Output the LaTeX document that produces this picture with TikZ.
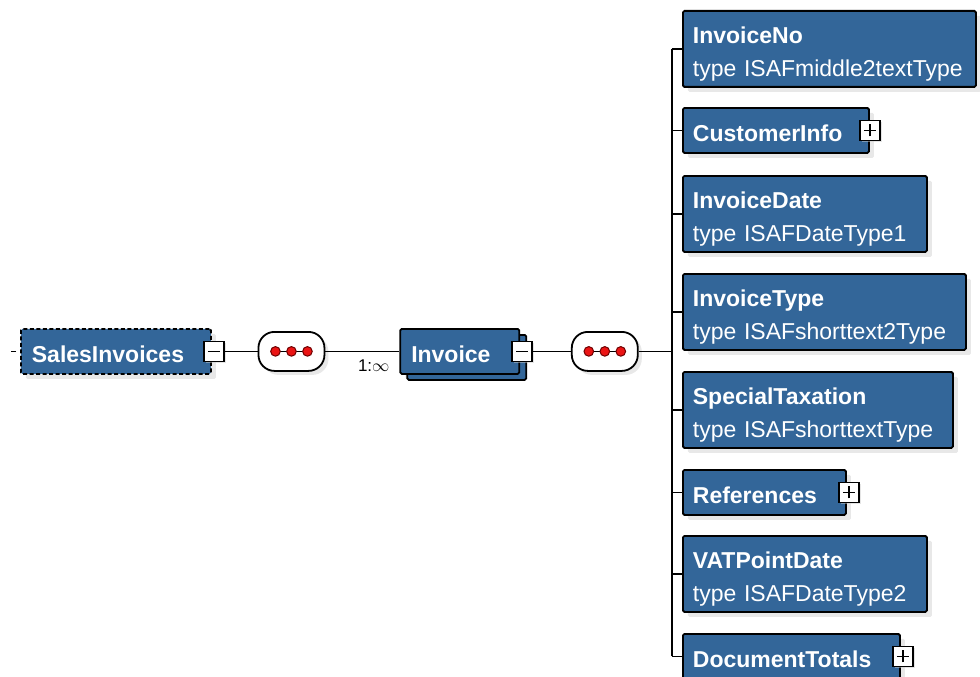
\documentclass[tikz,border=0pt]{standalone}
\usepackage{fontspec}
\setmainfont{Liberation Sans}
\usetikzlibrary{positioning, shadows}

\definecolor{xsdblue}{RGB}{51,102,153}
\definecolor{dotred}{RGB}{235,20,20}
\definecolor{dotdark}{RGB}{110,0,0}

\begin{document}
\begin{tikzpicture}[x=1pt,y=-1pt,line width=1.7pt,
  elem/.style={draw=black, line width=1.8pt, fill=xsdblue, text=white, rounded corners=1.5pt,
    anchor=north west, inner xsep=10pt, inner ysep=0pt, align=left,
    font=\fontsize{23}{33}\selectfont,
    drop shadow={shadow xshift=5pt, shadow yshift=-5pt, fill=black!18}},
  oneline/.style={text height=34pt, text depth=11pt},
  twoline/.style={text height=33pt, text depth=43pt},
  seq/.style={draw=black, line width=1.8pt, fill=white, rounded corners=16pt,
    minimum width=66pt, minimum height=39pt,
    drop shadow={shadow xshift=4pt, shadow yshift=-4pt, fill=black!18}},
  pmbox/.style={draw=black, fill=white, minimum size=20pt, inner sep=0pt,
    line width=1.5pt,
    drop shadow={shadow xshift=2pt, shadow yshift=-2pt, fill=black!20}},
  collapsebox/.style={pmbox, path picture={
    \draw[line width=1.8pt] ([xshift=-6pt]path picture bounding box.center)
      -- ([xshift=6pt]path picture bounding box.center);}},
  expandbox/.style={pmbox, path picture={
    \draw[line width=1.8pt] ([xshift=-6pt]path picture bounding box.center)
      -- ([xshift=6pt]path picture bounding box.center)
      ([yshift=-6pt]path picture bounding box.center)
      -- ([yshift=6pt]path picture bounding box.center);}},
  mult/.style={inner sep=0pt, font=\fontsize{17}{20}\selectfont}
]
  \useasboundingbox (0,0) rectangle (980,677);

  % root and its sequence
  \node[elem, oneline, dashed, dash pattern=on 4pt off 2.5pt,
        text width=168pt, inner xsep=11pt] (sales) at (20,328) {\textbf{SalesInvoices}};
  \node[collapsebox] (salesminus) at ([xshift=2pt]sales.east) {};
  \node[seq, right=33pt of salesminus] (seq1) {};
  \coordinate[left=4pt of sales.west] (stub);

  % repeated Invoice element
  \node[elem, oneline, text width=97pt, inner xsep=11pt,
        copy shadow={shadow xshift=7pt, shadow yshift=-6pt, fill=xsdblue, draw=black},
        right=74pt of seq1] (invoice) {\textbf{Invoice}};
  \node[collapsebox] (invminus) at ([xshift=2pt]invoice.east) {};
  \node[mult, below left=7.5pt and 9pt of invoice.west] (occurs) {1:$\infty$};
  \node[seq, right=38pt of invminus] (seq2) {};
  \coordinate[right=33pt of seq2] (spine);

  % children of Invoice
  \node[elem, twoline, text width=273pt] (invno)    at (682,10)  {\textbf{InvoiceNo}\\type ISAFmiddle2textType};
  \node[elem, oneline, text width=166pt] (custinfo) at (682,107) {\textbf{CustomerInfo}};
  \node[elem, twoline, text width=224pt] (invdate)  at (682,175) {\textbf{InvoiceDate}\\type ISAFDateType1};
  \node[elem, twoline, text width=263pt] (invtype)  at (682,273) {\textbf{InvoiceType}\\type ISAFshorttext2Type};
  \node[elem, twoline, text width=250pt] (spectax)  at (682,371) {\textbf{SpecialTaxation}\\type ISAFshorttextType};
  \node[elem, oneline, text width=143pt] (refs)     at (682,469) {\textbf{References}};
  \node[elem, twoline, text width=224pt] (vatdate)  at (682,535) {\textbf{VATPointDate}\\type ISAFDateType2};
  \node[elem, oneline, text width=197pt] (doctot)   at (682,633) {\textbf{DocumentTotals}};

  \node[expandbox] (custplus) at (custinfo.east) {};
  \node[expandbox] (refsplus) at ([xshift=2pt]refs.east) {};
  \node[expandbox] (docplus)  at ([xshift=2pt]doctot.east) {};

  % connectors
  \draw (stub) -- ++(-5pt,0);
  \draw (salesminus) -- (seq1);
  \draw (seq1) -- (invoice);
  \draw (invminus) -- (seq2);
  \draw (seq2) -- (spine);
  \draw (spine |- invno.west) -- (spine |- doctot.west);
  \foreach \el in {invno,custinfo,invdate,invtype,spectax,refs,vatdate,doctot}
    \draw (spine |- \el.west) -- (\el.west);

  % sequence dots
  \foreach \s in {seq1,seq2}{
    \draw[line width=1.3pt] ([xshift=-16pt]\s.center) -- ([xshift=16pt]\s.center);
    \foreach \dx in {-16,0,16}
      \filldraw[fill=dotred, draw=dotdark, line width=1pt]
        ([xshift=\dx pt]\s.center) circle[radius=4.8pt];
  }
\end{tikzpicture}
\end{document}
